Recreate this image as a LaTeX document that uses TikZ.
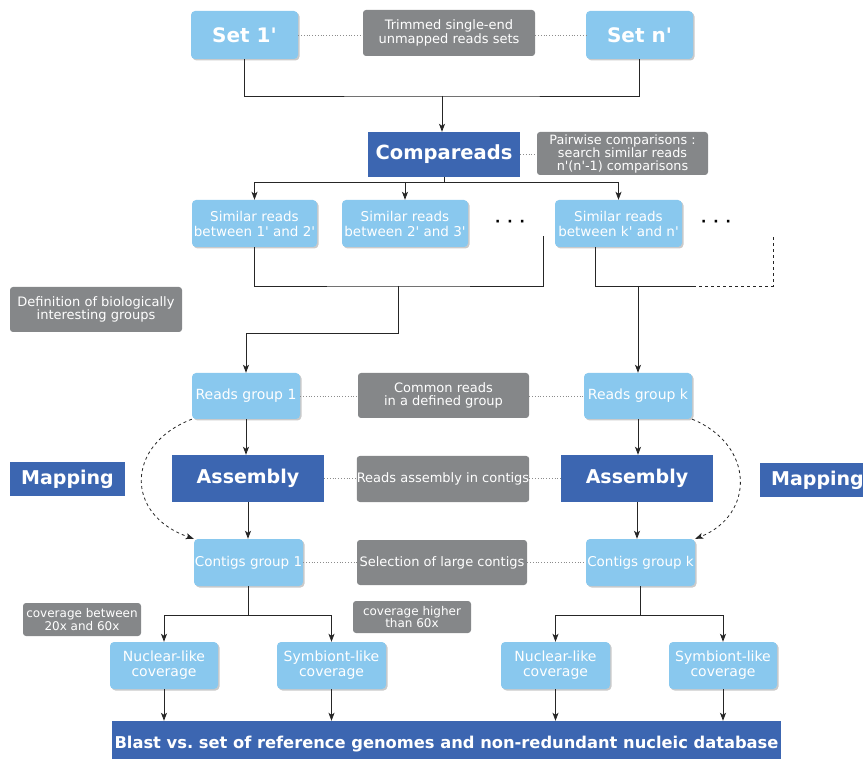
\documentclass[tikz,border=0pt]{standalone}
\usepackage{fontspec}
\setmainfont{DejaVu Sans}
\usepackage{tikz}
\usetikzlibrary{arrows.meta}
\usetikzlibrary{shadows}

\definecolor{lightblue}{HTML}{89C8EE}
\definecolor{darkblue}{HTML}{3C66B1}
\definecolor{boxgray}{HTML}{858789}
\newcommand{\q}{\textquotesingle}

\begin{document}
\begin{tikzpicture}[x=1pt, y=-1pt, >={Stealth[length=8pt,width=6pt,inset=2pt]},
    every node/.style={inner sep=0pt, align=center, text=white},
    lightbox/.style={fill=lightblue, rounded corners=4pt,
      drop shadow={shadow xshift=1.5pt, shadow yshift=-1.5pt, opacity=0.35, fill=black!60},
      font=\fontsize{13.5}{15}\selectfont},
    darkbox/.style={fill=darkblue, font=\bfseries\fontsize{19}{22}\selectfont},
    graybox/.style={fill=boxgray, rounded corners=3pt, font=\fontsize{13}{13.5}\selectfont},
    bigtext/.style={font=\bfseries\fontsize{20}{22}\selectfont},
    line/.style={line width=0.8pt, draw=black!85},
    flow/.style={line, ->},
    link/.style={draw=black!45, line width=0.8pt, dotted}]
  \useasboundingbox (0,0) rectangle (863,759);
  \clip (0,0) rectangle (863,759);

  % input sets
  \node[lightbox, bigtext, minimum width=107, minimum height=48] (set1) at (244.5,35) {Set 1\q};
  \node[lightbox, bigtext, minimum width=107, minimum height=48] (setn) at (639.5,35) {Set n\q};
  \node[graybox, minimum width=172, minimum height=46] (trim) at (449,33) {Trimmed single-end\\unmapped reads sets};

  % comparison step
  \node[darkbox, font=\bfseries\fontsize{19.5}{22}\selectfont, minimum width=152, minimum height=45] (cmp) at (444,154.5) {Compareads};
  \node[graybox, font=\fontsize{12.8}{13}\selectfont, minimum width=171, minimum height=43] (pair) at (622.5,153.5) {Pairwise comparisons :\\search similar reads\\n\q(n\q-1) comparisons};

  \node[lightbox, minimum width=125, minimum height=47] (sim1) at (254.5,223.5) {Similar reads\\between 1\q{} and 2\q};
  \node[lightbox, minimum width=126, minimum height=47] (sim2) at (405,223.5) {Similar reads\\between 2\q{} and 3\q};
  \node[lightbox, minimum width=127, minimum height=47] (simk) at (618.5,223.5) {Similar reads\\between k\q{} and n\q};
  \node[text=black, font=\bfseries\fontsize{14}{14}\selectfont] (dots1) at (510,223) {·\hspace{7pt}·\hspace{7pt}·};
  \node[text=black, font=\bfseries\fontsize{14}{14}\selectfont] (dots2) at (716,223) {·\hspace{7pt}·\hspace{7pt}·};

  % groups
  \node[graybox, minimum width=172, minimum height=45] (def) at (96,309.5) {Definition of biologically\\interesting groups};
  \node[lightbox, font=\fontsize{14}{15}\selectfont, minimum width=108, minimum height=46] (rg1) at (246,396) {Reads group 1};
  \node[lightbox, font=\fontsize{14}{15}\selectfont, minimum width=108, minimum height=46] (rgk) at (638,396) {Reads group k};
  \node[graybox, minimum width=171, minimum height=45] (com) at (443.5,395.5) {Common reads\\in a defined group};

  % assembly and mapping
  \node[darkbox, minimum width=115, minimum height=34] (map1) at (67.5,479) {Mapping};
  \node[darkbox, minimum width=115, minimum height=34] (map2) at (817.5,480) {Mapping};
  \node[darkbox, minimum width=152, minimum height=47] (asm1) at (248,478.5) {Assembly};
  \node[darkbox, minimum width=152, minimum height=47] (asmk) at (637,478.5) {Assembly};
  \node[graybox, minimum width=170, minimum height=46] (rasm) at (443,479) {Reads assembly in contigs};

  \node[lightbox, font=\fontsize{13.5}{15}\selectfont, minimum width=109, minimum height=47] (cg1) at (248.5,562.5) {Contigs group 1};
  \node[lightbox, font=\fontsize{13.5}{15}\selectfont, minimum width=109, minimum height=47] (cgk) at (640.5,562.5) {Contigs group k};
  \node[graybox, minimum width=170, minimum height=45] (sel) at (442,562.5) {Selection of large contigs};

  % coverage classes
  \node[graybox, font=\fontsize{12}{12.5}\selectfont, minimum width=118, minimum height=33] (cov1) at (82,619.5) {coverage between\\20x and 60x};
  \node[graybox, font=\fontsize{12}{12.5}\selectfont, minimum width=118, minimum height=32] (cov2) at (412,617) {coverage higher\\than 60x};
  \node[lightbox, font=\fontsize{14}{15}\selectfont, minimum width=108, minimum height=47] (nuc1) at (164,665.5) {Nuclear-like\\coverage};
  \node[lightbox, font=\fontsize{14}{15}\selectfont, minimum width=109, minimum height=47] (sym1) at (331.5,665.5) {Symbiont-like\\coverage};
  \node[lightbox, font=\fontsize{14}{15}\selectfont, minimum width=109, minimum height=47] (nuck) at (555.5,665.5) {Nuclear-like\\coverage};
  \node[lightbox, font=\fontsize{14}{15}\selectfont, minimum width=108, minimum height=47] (symk) at (723,665.5) {Symbiont-like\\coverage};

  \node[fill=darkblue, font=\bfseries\fontsize{16.3}{18}\selectfont, minimum width=669, minimum height=46] (blast) at (446.5,744) {Blast vs.\ set of reference genomes and non-redundant nucleic database};

  % dotted links
  \draw[link] (set1.east) -- (set1.east -| trim.west);
  \draw[link] (setn.west -| trim.east) -- (setn.west);
  \draw[link] (cmp.east) -- (cmp.east -| pair.west);
  \draw[link] (rg1.east) -- (rg1.east -| com.west);
  \draw[link] (rgk.west -| com.east) -- (rgk.west);
  \draw[link] (asm1.east) -- (asm1.east -| rasm.west);
  \draw[link] (asmk.west -| rasm.east) -- (asmk.west);
  \draw[link] (cg1.east) -- (cg1.east -| sel.west);
  \draw[link] (cgk.west -| sel.east) -- (cgk.west);

  % sets to compareads
  \coordinate (j1) at (442,96);
  \draw[line] (set1.south) |- (j1) -| (setn.south);
  \draw[flow] (j1) -- (j1 |- cmp.north);

  \coordinate (j2) at (444,182);
  \draw[line] (cmp.south) -- (j2);
  \draw[flow] (j2) -| (sim1.north);
  \draw[flow] (j2) -| (simk.north);
  \draw[flow] (sim2.north |- j2) -- (sim2.north);

  % similar reads to groups
  \coordinate (j3) at (398,286);
  \coordinate (j4) at (398,333);
  \coordinate (free1) at (543,236);
  \draw[line] (sim1.south) |- (j3) -| (free1);
  \draw[flow] (j3) -- (j4) -| (rg1.north);

  \coordinate (j5) at (693,286);
  \coordinate (free2) at (773,236);
  \draw[line] ([xshift=41pt]simk.south west) |- (j5);
  \draw[line, dashed] (j5) -| (free2);
  \draw[flow] (rgk.north |- j5) -- (rgk.north);

  % assembly column
  \draw[flow] (rg1.south) -- (rg1.south |- asm1.north);
  \draw[flow] (asm1.south) -- (asm1.south |- cg1.north);
  \draw[flow] (rgk.south) -- (rgk.south |- asmk.north);
  \draw[flow] (asmk.south) -- (asmk.south |- cgk.north);
  \draw[flow, dashed] (rg1.south west) .. controls (125,445) and (125,515) .. (cg1.north west);
  \draw[flow, dashed] (rgk.south east) .. controls (755,445) and (755,515) .. (cgk.north east);

  % coverage split
  \coordinate (j6) at (248.5,615);
  \draw[line] (cg1.south) -- (j6);
  \draw[flow] (j6) -| (nuc1.north);
  \draw[flow] (j6) -| (sym1.north);
  \coordinate (j7) at (640.5,615);
  \draw[line] (cgk.south) -- (j7);
  \draw[flow] (j7) -| (nuck.north);
  \draw[flow] (j7) -| (symk.north);

  \draw[flow] (nuc1.south) -- (nuc1.south |- blast.north);
  \draw[flow] (sym1.south) -- (sym1.south |- blast.north);
  \draw[flow] (nuck.south) -- (nuck.south |- blast.north);
  \draw[flow] (symk.south) -- (symk.south |- blast.north);
\end{tikzpicture}
\end{document}
